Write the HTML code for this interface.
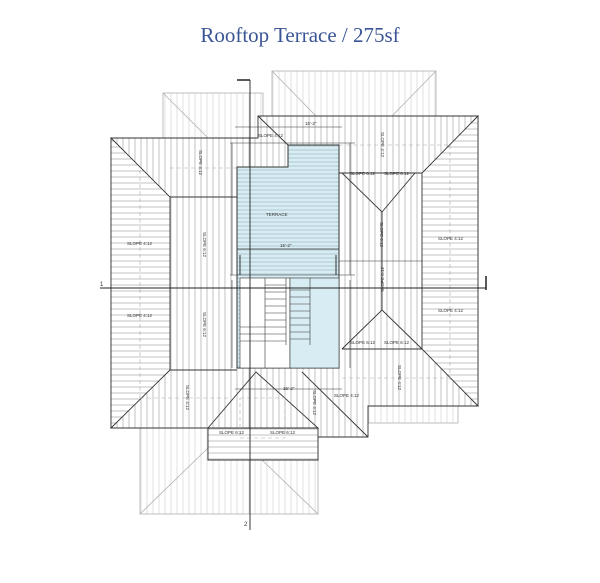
<!DOCTYPE html>
<html><head><meta charset="utf-8"><style>
html,body{margin:0;padding:0;background:#fff;}
svg{display:block}
</style></head><body>
<svg width="600" height="583" viewBox="0 0 600 583" xmlns="http://www.w3.org/2000/svg">
<defs>
<pattern id="v" width="6" height="10" patternUnits="userSpaceOnUse"><rect width="6" height="10" fill="#fff"/><line x1="3" y1="0" x2="3" y2="10" stroke="#9a9a9a" stroke-width="0.6"/></pattern>
<pattern id="h" width="10" height="6" patternUnits="userSpaceOnUse"><rect width="10" height="6" fill="#fff"/><line x1="0" y1="3" x2="10" y2="3" stroke="#9a9a9a" stroke-width="0.6"/></pattern>
<pattern id="vf" width="6" height="10" patternUnits="userSpaceOnUse"><rect width="6" height="10" fill="#fff"/><line x1="3" y1="0" x2="3" y2="10" stroke="#cccccc" stroke-width="0.6"/></pattern>
<pattern id="b" width="10" height="4" patternUnits="userSpaceOnUse"><rect width="10" height="4" fill="#d8edf3"/><line x1="0" y1="2" x2="10" y2="2" stroke="#8aa3af" stroke-width="0.5"/></pattern>
</defs>
<text x="300" y="42" text-anchor="middle" font-family="Liberation Serif, serif" font-size="21" fill="#3a5595">Rooftop Terrace / 275sf</text>

<g stroke="#b0b0b0" stroke-width="0.8">
<rect x="272" y="71" width="164" height="47" fill="url(#vf)"/>
<line x1="272" y1="71" x2="316" y2="116"/><line x1="436" y1="71" x2="392" y2="116"/>
<rect x="163" y="93" width="100" height="47" fill="url(#vf)"/>
<line x1="163" y1="93" x2="208" y2="138"/>
<rect x="140" y="428" width="178" height="86" fill="url(#vf)"/>
<line x1="140" y1="514" x2="210" y2="446"/><line x1="318" y1="514" x2="262" y2="460"/>
<rect x="368" y="406" width="90" height="17" fill="url(#vf)"/>
</g>

<g stroke="#333" stroke-width="0.9">
<polygon points="111,138 258,138 258,116 478,116 478,406 368,406 368,437 318,437 318,460 208,460 208,428 111,428" fill="url(#v)"/>
<polygon points="111,138 170,197 170,370 111,428" fill="url(#h)"/>
<polygon points="478,116 422,173 422,349 478,406" fill="url(#h)"/>
<rect x="208" y="428" width="110" height="32" fill="url(#h)"/>
<line x1="170" y1="197" x2="237" y2="197"/>
<line x1="170" y1="370" x2="237" y2="370"/>
<line x1="258" y1="116" x2="288" y2="145"/>
<polygon points="342,173 415,173 382,212" fill="url(#v)"/>
<line x1="339" y1="173" x2="422" y2="173"/>
<line x1="382" y1="212" x2="382" y2="310"/>
<polyline points="302,372 368,437" fill="none"/>
<polygon points="208,428 256,372 318,428" fill="url(#v)"/>
<line x1="208" y1="428" x2="318" y2="428"/>
<polyline points="342,349 382,310 422,349" fill="none"/>
<line x1="342" y1="349" x2="422" y2="349"/>
<line x1="339" y1="261" x2="422" y2="261" stroke-width="0.6"/>
</g>
<g stroke="#aaa" stroke-width="0.6" stroke-dasharray="4,3" fill="none">
<line x1="140" y1="170" x2="140" y2="400"/><line x1="450" y1="145" x2="450" y2="380"/>
<line x1="170" y1="168" x2="237" y2="168"/><line x1="339" y1="145" x2="450" y2="145"/>
<line x1="140" y1="398" x2="230" y2="398"/><line x1="342" y1="378" x2="450" y2="378"/>
<rect x="240" y="398" width="45" height="40"/>
</g>

<g stroke="#333" stroke-width="1">
<polygon points="237,167 288,167 288,145 339,145 339,368 237,368" fill="url(#b)"/>
<rect x="240" y="278" width="50" height="90" fill="#fff" stroke-width="0.6"/>
<rect x="290" y="278" width="49" height="90" fill="#d8edf3" stroke-width="0.6"/>
<line x1="237" y1="249" x2="339" y2="249" stroke-width="0.8"/>
</g>
<g stroke="#333" stroke-width="0.6">
<line x1="265" y1="278" x2="265" y2="368"/><line x1="286" y1="278" x2="286" y2="345"/>
<line x1="310" y1="278" x2="310" y2="345"/>
<line x1="265" y1="285" x2="286" y2="285"/><line x1="265" y1="292" x2="286" y2="292"/><line x1="265" y1="299" x2="286" y2="299"/><line x1="265" y1="306" x2="286" y2="306"/><line x1="265" y1="313" x2="286" y2="313"/><line x1="265" y1="320" x2="286" y2="320"/>
<line x1="240" y1="327" x2="286" y2="327"/><line x1="240" y1="334" x2="286" y2="334"/><line x1="240" y1="341" x2="286" y2="341"/>
<line x1="290" y1="290" x2="310" y2="290"/><line x1="290" y1="297" x2="310" y2="297"/><line x1="290" y1="304" x2="310" y2="304"/><line x1="290" y1="311" x2="310" y2="311"/><line x1="290" y1="318" x2="310" y2="318"/><line x1="290" y1="325" x2="310" y2="325"/><line x1="290" y1="332" x2="310" y2="332"/><line x1="290" y1="339" x2="310" y2="339"/>
<line x1="240" y1="255" x2="240" y2="275" stroke-width="1"/><line x1="336" y1="255" x2="336" y2="275" stroke-width="1"/>
</g>

<g stroke="#333" stroke-width="0.6" fill="none">
<line x1="235" y1="127" x2="342" y2="127"/><line x1="230" y1="143" x2="355" y2="143"/>
<line x1="232" y1="143" x2="232" y2="275"/><line x1="350" y1="143" x2="350" y2="275"/>
<line x1="230" y1="275" x2="355" y2="275"/>
<line x1="232" y1="280" x2="232" y2="368"/><line x1="350" y1="280" x2="350" y2="368"/>
<line x1="235" y1="389" x2="342" y2="389"/>
</g>
<g stroke="#222" stroke-width="0.9">
<line x1="100" y1="288" x2="486" y2="288"/>
<line x1="486" y1="276" x2="486" y2="290" stroke-width="1.5"/>
<line x1="250" y1="80" x2="250" y2="530"/>
<line x1="237" y1="80" x2="250" y2="80" stroke-width="1.5"/>
</g>
<text x="100" y="286" font-family="Liberation Sans, sans-serif" font-size="6" fill="#333">1</text>
<text x="244" y="526" font-family="Liberation Sans, sans-serif" font-size="6" fill="#333">2</text>

<g font-family="Liberation Sans, sans-serif" font-size="4.5" fill="#333">
<text x="258" y="137">SLOPE 4:12</text>
<text x="266" y="216">TERRACE</text>
<text x="280" y="247">15'-2"</text>
<text x="305" y="125">15'-2"</text>
<text x="283" y="390">15'-2"</text>
<text x="127" y="245">SLOPE 4:12</text>
<text x="127" y="317">SLOPE 4:12</text>
<text x="438" y="240">SLOPE 4:12</text>
<text x="438" y="312">SLOPE 4:12</text>
<text x="350" y="175">SLOPE 6:12</text>
<text x="384" y="175">SLOPE 6:12</text>
<text x="350" y="344">SLOPE 6:12</text>
<text x="384" y="344">SLOPE 6:12</text>
<text x="219" y="434">SLOPE 6:12</text>
<text x="270" y="434">SLOPE 6:12</text>
<text x="334" y="397">SLOPE 4:12</text>
<text transform="translate(199,150) rotate(90)">SLOPE 4:12</text>
<text transform="translate(381,132) rotate(90)">SLOPE 4:12</text>
<text transform="translate(203,232) rotate(90)">SLOPE 6:12</text>
<text transform="translate(203,312) rotate(90)">SLOPE 6:12</text>
<text transform="translate(380,222) rotate(90)">SLOPE 6:12</text>
<text transform="translate(384,292) rotate(-90)">SLOPE 6:12</text>
<text transform="translate(186,385) rotate(90)">SLOPE 4:12</text>
<text transform="translate(313,390) rotate(90)">SLOPE 4:12</text>
<text transform="translate(398,365) rotate(90)">SLOPE 4:12</text>
</g>
</svg>
</body></html>
